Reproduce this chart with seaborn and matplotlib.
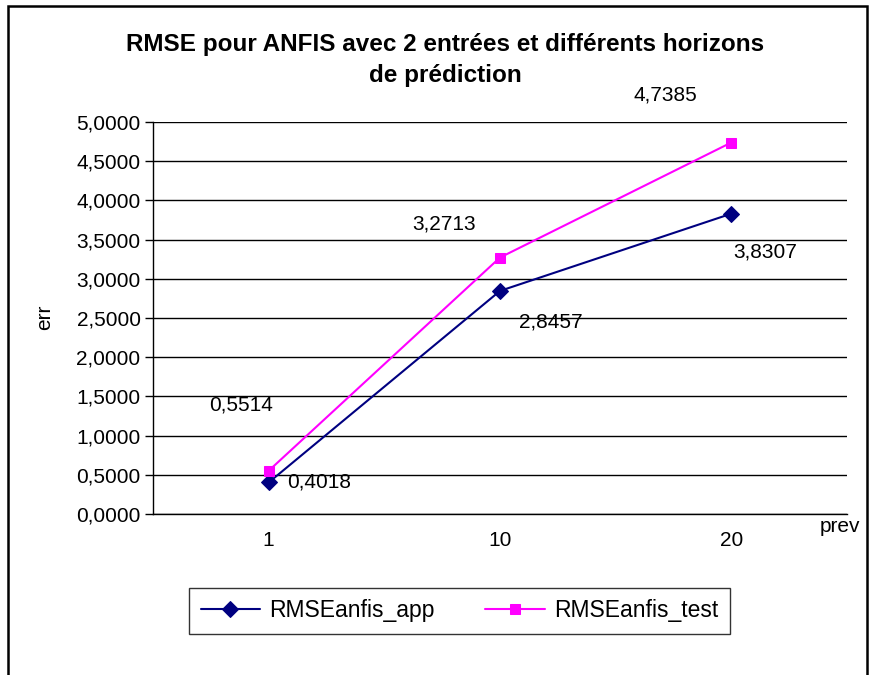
import matplotlib
matplotlib.use("Agg")
import matplotlib.pyplot as plt
import numpy as np
import seaborn as sns
from matplotlib.patches import Rectangle
from matplotlib.ticker import FuncFormatter, MultipleLocator, FixedLocator

# ── Data ───────────────────────────────────────────────────────────────────────
categories = ["1", "10", "20"]
rmse_app = [0.4018, 2.8457, 3.8307]
rmse_test = [0.5514, 3.2713, 4.7385]
series_names = ["RMSEanfis_app", "RMSEanfis_test"]

# label offsets in pixels (dx, dy), one per point
app_label_offsets = [(50, 0), (51, -31), (34, -38)]
test_label_offsets = [(-28, 66), (-56, 34), (-66, 48)]

sns.set_style("white")
plt.rcParams["font.family"] = ["Liberation Sans", "DejaVu Sans"]
plt.rcParams.update({"text.color": "black", "xtick.color": "black",
                     "ytick.color": "black", "axes.labelcolor": "black"})

fig = plt.figure(figsize=(8.72, 6.75), dpi=100)
ax = fig.add_axes([153 / 872, 1 - 514 / 675, (847 - 153) / 872, (514 - 122) / 675])

x = np.arange(len(categories))
styles = [
    (rmse_app, "#000080", "D", 8, app_label_offsets),
    (rmse_test, "#FF00FF", "s", 7.5, test_label_offsets),
]
for name, (vals, color, marker, ms, offsets) in zip(series_names, styles):
    sns.lineplot(x=x, y=vals, ax=ax, color=color, marker=marker, markersize=ms,
                 markeredgecolor=color, linewidth=1.5, label=name, zorder=3)
    for xi, v, (dx, dy) in zip(x, vals, offsets):
        ax.annotate(f"{v:.4f}".replace(".", ","), (xi, v),
                    xytext=(dx * 0.72, dy * 0.72), textcoords="offset points",
                    ha="center", va="center", fontsize=15, color="black")

ax.set_xlim(-0.5, len(categories) - 0.5)
ax.set_ylim(0, 5)
ax.yaxis.set_major_locator(MultipleLocator(0.5))
ax.yaxis.set_major_formatter(FuncFormatter(lambda v, _: f"{v:.4f}".replace(".", ",")))
ax.set_xticks(x)
ax.set_xticklabels(categories)
ax.xaxis.set_minor_locator(FixedLocator(np.arange(len(categories) + 1) - 0.5))
ax.tick_params(axis="x", which="major", length=0, pad=12, labelsize=15)
ax.tick_params(axis="x", which="minor", length=6, width=1, color="black", direction="out")
ax.tick_params(axis="y", which="major", length=6, width=1, color="black", direction="out",
               pad=3, labelsize=15, left=True)
ax.grid(axis="y", color="black", linewidth=1)
ax.grid(axis="x", visible=False)
ax.set_axisbelow(True)
for side in ["top", "right"]:
    ax.spines[side].set_visible(False)
for side in ["left", "bottom"]:
    ax.spines[side].set_color("black")
    ax.spines[side].set_linewidth(1)
ax.set_xlabel("")
ax.set_ylabel("")

leg = ax.legend(loc="center", bbox_to_anchor=(459.5 / 872, 1 - 611 / 675),
                bbox_transform=fig.transFigure, ncol=2, fontsize=16.5, frameon=True,
                fancybox=False, edgecolor="black", handlelength=2.6, columnspacing=2.2,
                borderpad=0.5, handletextpad=0.4)
leg.get_frame().set_linewidth(1)

fig.text(445 / 872, 1 - 60 / 675,
         "RMSE pour ANFIS avec 2 entrées et différents horizons\nde prédiction",
         ha="center", va="center", fontsize=17.5, fontweight="bold", linespacing=1.4)
fig.text(45 / 872, 1 - 317 / 675, "err", rotation=90, ha="center", va="center", fontsize=15)
fig.text(840 / 872, 1 - 527 / 675, "prev", ha="center", va="center", fontsize=15)

fig.patches.append(Rectangle((8 / 872, -0.05), (867 - 8) / 872, 1.05 - 6 / 675,
                             transform=fig.transFigure, fill=False, edgecolor="black",
                             linewidth=1.8))

fig.savefig("out.png", dpi=100)
